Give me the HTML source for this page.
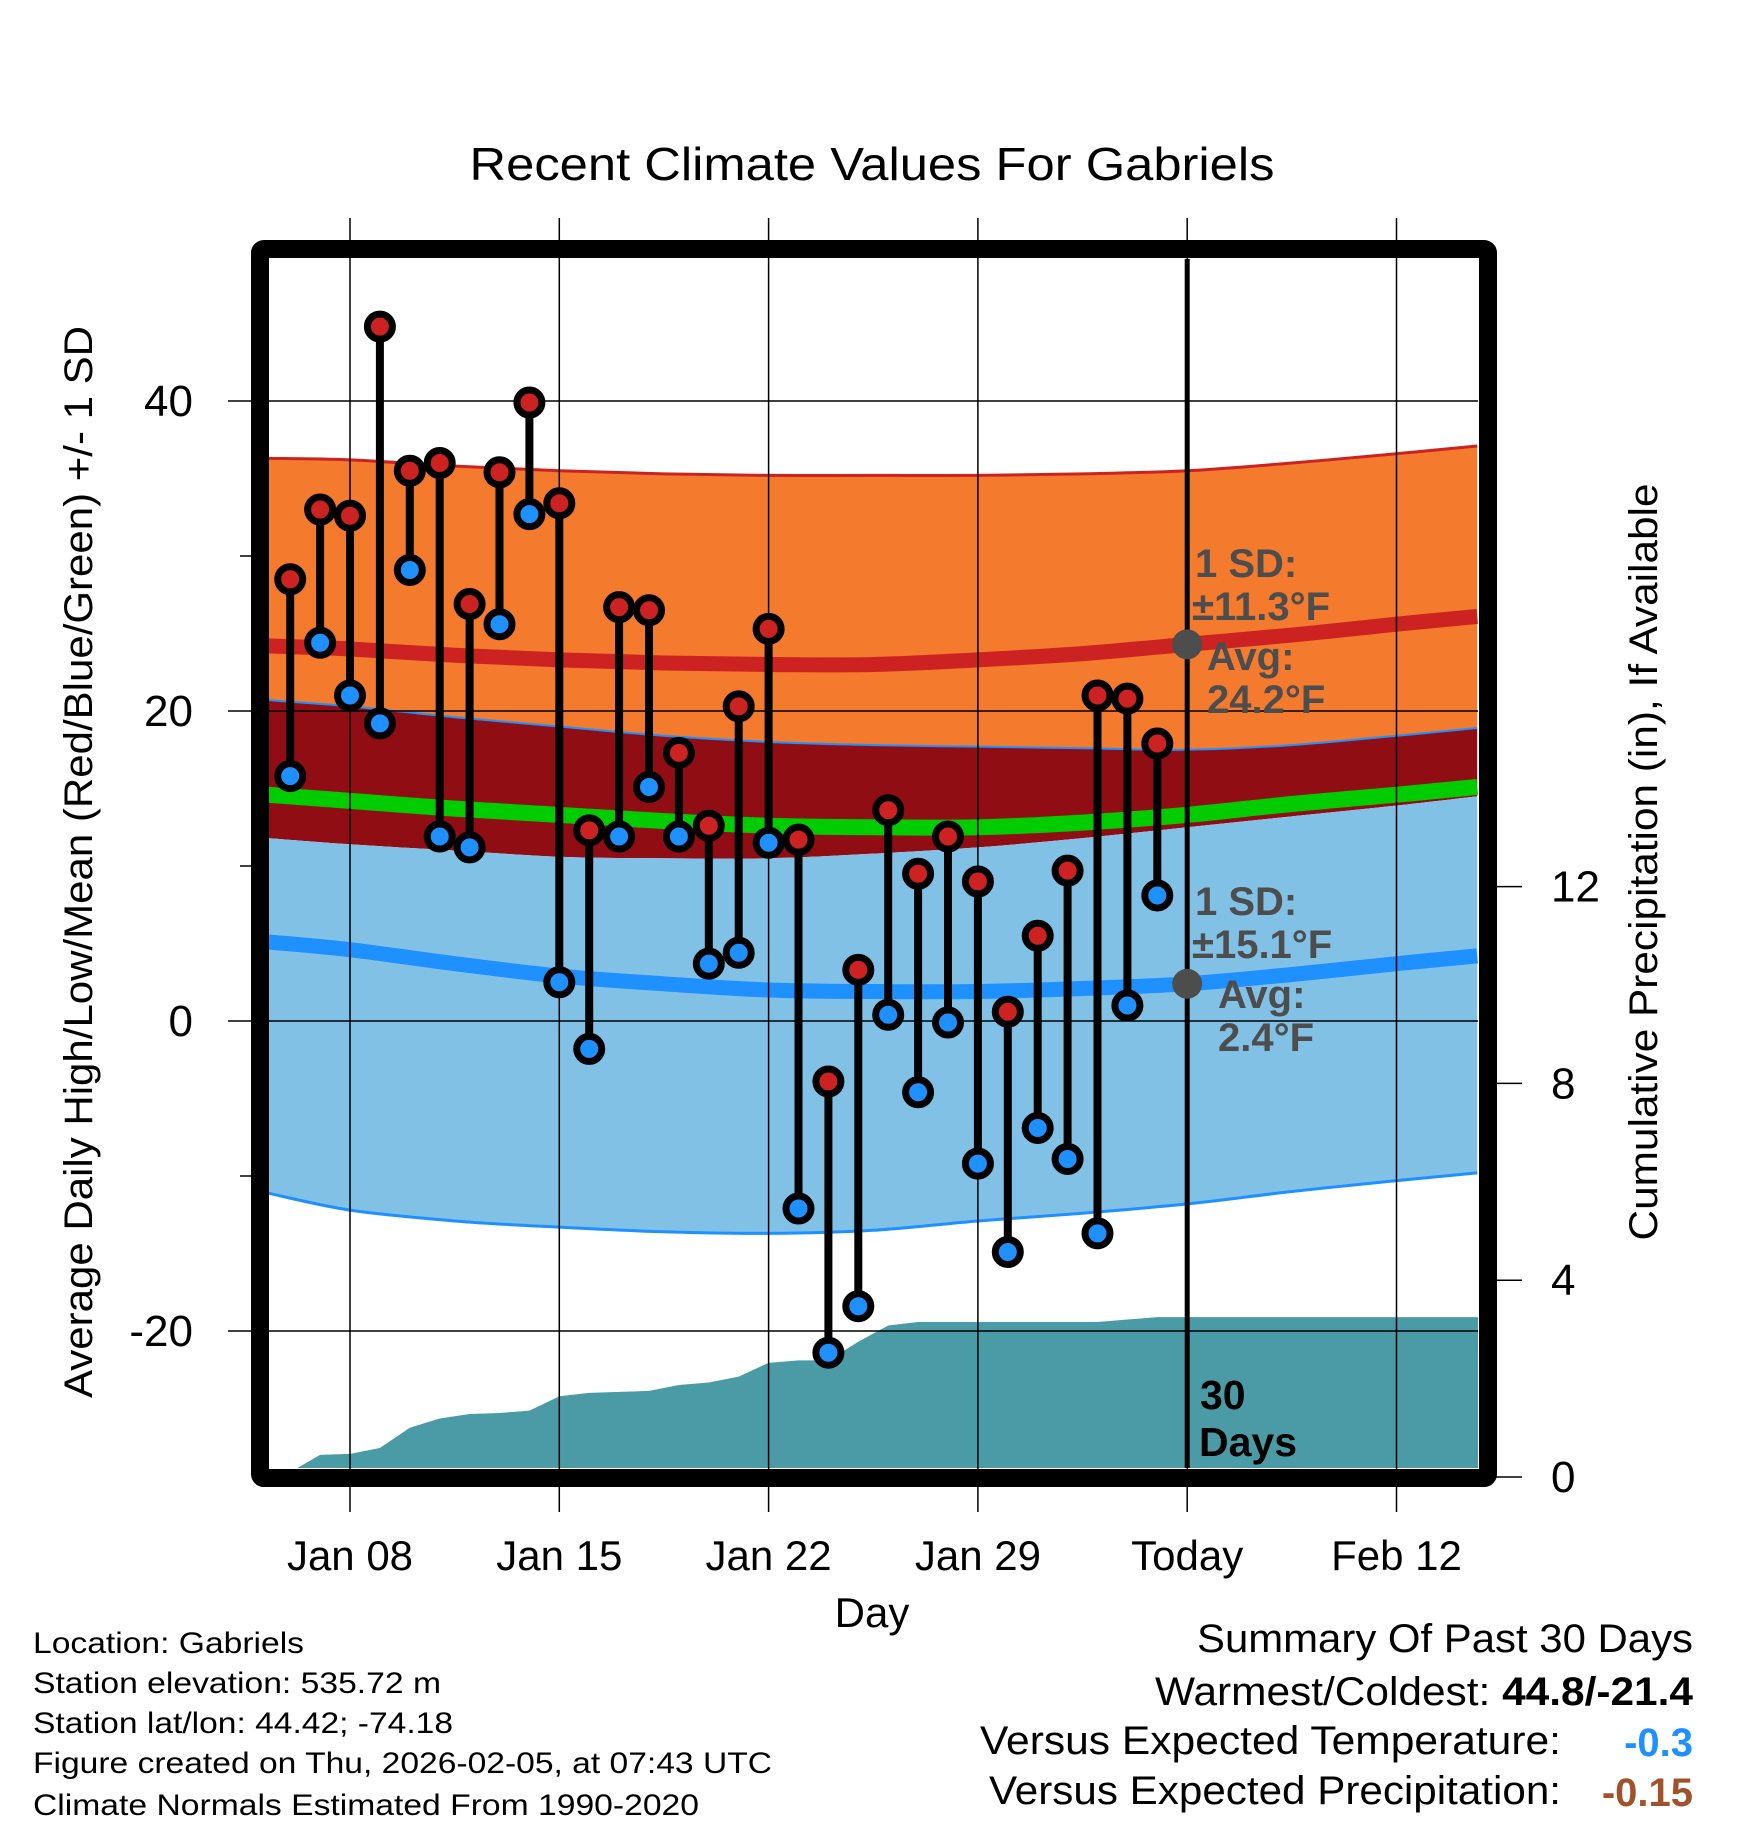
<!DOCTYPE html>
<html><head><meta charset="utf-8"><style>
html,body{margin:0;padding:0;background:#fff;}
svg{display:block;font-family:"Liberation Sans",Arial,sans-serif;}
</style></head><body>
<svg id="chart" width="1748" height="1828" viewBox="0 0 1748 1828" xmlns="http://www.w3.org/2000/svg">
<text x="872" y="180" font-size="46" text-anchor="middle" textLength="805" lengthAdjust="spacingAndGlyphs">Recent Climate Values For Gabriels</text>
<g id="plot"></g>
<g id="axes"></g>
<g font-size="30">
<text x="33" y="1653" textLength="271" lengthAdjust="spacingAndGlyphs">Location: Gabriels</text>
<text x="33" y="1693" textLength="408" lengthAdjust="spacingAndGlyphs">Station elevation: 535.72 m</text>
<text x="33" y="1733" textLength="420" lengthAdjust="spacingAndGlyphs">Station lat/lon: 44.42; -74.18</text>
<text x="33" y="1773" textLength="739" lengthAdjust="spacingAndGlyphs">Figure created on Thu, 2026-02-05, at 07:43 UTC</text>
<text x="33" y="1815" textLength="666" lengthAdjust="spacingAndGlyphs">Climate Normals Estimated From 1990-2020</text>
</g>
<g font-size="40">
<text x="1197" y="1652" textLength="496" lengthAdjust="spacingAndGlyphs">Summary Of Past 30 Days</text>
<text x="1155" y="1705" textLength="538" lengthAdjust="spacingAndGlyphs">Warmest/Coldest: <tspan font-weight="bold">44.8/-21.4</tspan></text>
<text x="980" y="1754" textLength="581" lengthAdjust="spacingAndGlyphs">Versus Expected Temperature:</text>
<text x="1693" y="1756" fill="#1e90ff" font-weight="bold" text-anchor="end">-0.3</text>
<text x="989" y="1804" textLength="572" lengthAdjust="spacingAndGlyphs">Versus Expected Precipitation:</text>
<text x="1693" y="1806" fill="#a0522d" font-weight="bold" text-anchor="end">-0.15</text>
</g>
</svg>
<script>
// day offsets relative to Jan 08
const days = [-2,-1,0,1,2,3,4,5,6,7,8,9,10,11,12,13,14,15,16,17,18,19,20,21,22,23,24,25,26,27];
const highs = [28.5,33.0,32.6,44.8,35.5,36.0,26.9,35.4,39.9,33.4,12.3,26.7,26.5,17.3,12.6,20.3,25.3,11.7,-3.9,3.3,13.6,9.5,11.9,9.0,0.6,5.5,9.7,21.0,20.8,17.9];
const lows = [15.8,24.4,21.0,19.2,29.1,11.9,11.2,25.6,32.7,2.5,-1.8,11.9,15.1,11.9,3.7,4.4,11.5,-12.1,-21.4,-18.4,0.4,-4.6,-0.1,-9.2,-14.9,-6.9,-8.9,-13.7,1.0,8.1];
const precip = [0.1,0.45,0.47,0.59,1.0,1.19,1.28,1.3,1.35,1.64,1.71,1.73,1.75,1.87,1.92,2.04,2.32,2.37,2.37,2.75,3.08,3.15,3.15,3.15,3.15,3.15,3.15,3.15,3.2,3.25];
const normDays = [-2.75,0,3.5,7,10.5,14,17.5,21,24.5,28,31.5,35,37.7];
const highMean = [24.2,24.0,23.6,23.3,23.1,23.0,23.0,23.3,23.7,24.3,24.9,25.6,26.1];
const highUpper = [36.3,36.2,35.8,35.5,35.3,35.2,35.2,35.2,35.3,35.5,36.0,36.6,37.1];
const highLower = [20.7,20.3,19.6,19.0,18.4,18.0,17.8,17.7,17.6,17.5,17.8,18.4,18.9];
const avgMean = [14.6,14.2,13.7,13.3,12.9,12.6,12.5,12.5,12.8,13.3,14.0,14.6,15.1];
const lowMean = [5.1,4.6,3.7,2.9,2.4,2.0,1.9,1.9,2.1,2.4,3.0,3.7,4.2];
const lowUpper = [11.8,11.4,11.0,10.6,10.5,10.5,10.8,11.2,11.8,12.5,13.2,13.9,14.5];
const lowLower = [-11.1,-12.2,-12.9,-13.3,-13.6,-13.7,-13.5,-12.9,-12.4,-11.8,-11.0,-10.3,-9.8];
const yTicks = [-20,0,20,40];
const yMinor = [-10,10,30];
const pTicks = [0,4,8,12];
const xTickDays = [0,7,14,21,28,35];
const xTickLabels = ["Jan 08","Jan 15","Jan 22","Jan 29","Today","Feb 12"];

const NS="http://www.w3.org/2000/svg";
const L=268,R=1478,T=259,B=1468;
const x=d=>350+d*29.9;
const y=v=>1021-v*15.5;
const yp=p=>1477-p*49.2;
function mk(tag,attrs,parent){const e=document.createElementNS(NS,tag);for(const k in attrs)e.setAttribute(k,attrs[k]);parent.appendChild(e);return e;}
const plot=document.getElementById('plot'), axes=document.getElementById('axes');
const clip=mk('clipPath',{id:'pc'},plot);mk('rect',{x:L,y:T,width:R-L,height:B-T},clip);
const g=mk('g',{'clip-path':'url(#pc)'},plot);


// smooth curve through points (Catmull-Rom)
function pts(a){return normDays.map((d,i)=>[x(d),y(a[i])]);}
function smooth(p){let s='M'+p[0][0]+','+p[0][1];for(let i=0;i<p.length-1;i++){const p0=p[i-1]||p[i],p1=p[i],p2=p[i+1],p3=p[i+2]||p2;s+=' C'+(p1[0]+(p2[0]-p0[0])/6)+','+(p1[1]+(p2[1]-p0[1])/6)+' '+(p2[0]-(p3[0]-p1[0])/6)+','+(p2[1]-(p3[1]-p1[1])/6)+' '+p2[0]+','+p2[1];}return s;}
const line=a=>smooth(pts(a));
const band=(up,lo)=>line(up)+' L'+smooth(pts(lo).reverse()).slice(1)+'Z';
let e;
e=mk('path',{d:band(highUpper,highLower),fill:'#f47a2e'},g);


e=mk('path',{d:band(highLower,lowUpper),fill:'#910d14'},g);


e=mk('path',{d:band(lowUpper,lowLower),fill:'#82c1e6'},g);


e=mk('path',{d:line(highUpper),fill:'none',stroke:'#cc2222','stroke-width':3},g);


e=mk('path',{d:line(highLower),fill:'none',stroke:'#1e90ff','stroke-width':2},g);


e=mk('path',{d:line(lowLower),fill:'none',stroke:'#1e90ff','stroke-width':3},g);


e=mk('path',{d:line(highMean),fill:'none',stroke:'#cc2222','stroke-width':15},g);


e=mk('path',{d:line(avgMean),fill:'none',stroke:'#00cc00','stroke-width':16},g);


e=mk('path',{d:line(lowMean),fill:'none',stroke:'#1e90ff','stroke-width':15},g);


// precip
let pd='M'+x(days[0])+','+yp(0);
precip.forEach((p,i)=>pd+=' L'+x(days[i])+','+yp(p));
pd+=' L'+R+','+yp(precip[precip.length-1])+' L'+R+','+yp(0)+'Z';
e=mk('path',{d:pd,fill:'#4a9ba5'},g);


// grid
xTickDays.forEach((d,i)=>{
  e=mk('line',{x1:x(d),x2:x(d),y1:218,y2:1512,stroke:'#000','stroke-width':1.5},axes);
  
  
  e=mk('text',{x:x(d),y:1570,'font-size':42,'text-anchor':'middle'},axes);e.textContent=xTickLabels[i];
  
  
});
yTicks.forEach(v=>{
  e=mk('line',{x1:228,x2:R,y1:y(v),y2:y(v),stroke:'#000','stroke-width':1.5},axes);
  
  
  e=mk('text',{x:193,y:y(v)+15,'font-size':44,'text-anchor':'end'},axes);e.textContent=v;
  
  
});
yMinor.forEach(v=>{
  e=mk('line',{x1:240,x2:256,y1:y(v),y2:y(v),stroke:'#000','stroke-width':1.5},axes);
  
  
});
pTicks.forEach(p=>{
  e=mk('line',{x1:1496,x2:1522,y1:yp(p),y2:yp(p),stroke:'#000','stroke-width':1.5},axes);
  
  
  e=mk('text',{x:1551,y:yp(p)+15,'font-size':44},axes);e.textContent=p;
  
  
});
// today line
e=mk('line',{x1:x(28),x2:x(28),y1:T,y2:B,stroke:'#000','stroke-width':5},axes);


// stems and markers
days.forEach((d,i)=>{
  e=mk('line',{x1:x(d),x2:x(d),y1:y(highs[i]),y2:y(lows[i]),stroke:'#000','stroke-width':8},axes);
  
  
});
days.forEach((d,i)=>{
  e=mk('circle',{cx:x(d),cy:y(highs[i]),r:12.5,fill:'#cc2222',stroke:'#000','stroke-width':7},axes);
  
  
  e=mk('circle',{cx:x(d),cy:y(lows[i]),r:12.5,fill:'#1e90ff',stroke:'#000','stroke-width':7},axes);
  
  
});
// annotations
const tx=x(28);
e=mk('circle',{cx:tx,cy:y(highMean[9]),r:15,fill:'#4d4d4d'},axes);


e=mk('circle',{cx:tx,cy:y(lowMean[9]),r:15,fill:'#4d4d4d'},axes);


const ann=[["1 SD:",1195,577],["±11.3°F",1192,620],["Avg:",1207,670],["24.2°F",1207,713],["1 SD:",1195,915],["±15.1°F",1192,958],["Avg:",1218,1008],["2.4°F",1218,1051]];
ann.forEach(a=>{
  e=mk('text',{x:a[1],y:a[2],'font-size':40,'font-weight':'bold',fill:'#4d4d4d'},axes);e.textContent=a[0];
  
  
});
e=mk('text',{x:1200,y:1409,'font-size':41,'font-weight':'bold'},axes);e.textContent="30";


e=mk('text',{x:1199,y:1456,'font-size':41,'font-weight':'bold'},axes);e.textContent="Days";


// frame
e=mk('rect',{x:260,y:249,width:1228,height:1229,fill:'none',stroke:'#000','stroke-width':18,rx:4},axes);


// axis titles
e=mk('text',{x:872,y:1627,'font-size':42,'text-anchor':'middle'},axes);e.textContent="Day";


e=mk('text',{x:0,y:0,'font-size':40,'text-anchor':'middle',textLength:1072,lengthAdjust:'spacingAndGlyphs',transform:'translate(92,862) rotate(-90)'},axes);e.textContent="Average Daily High/Low/Mean (Red/Blue/Green) +/- 1 SD";


e=mk('text',{x:0,y:0,'font-size':40,'text-anchor':'middle',textLength:757,lengthAdjust:'spacingAndGlyphs',transform:'translate(1657,862) rotate(-90)'},axes);e.textContent="Cumulative Precipitation (in), If Available";


</script>
</body></html>
